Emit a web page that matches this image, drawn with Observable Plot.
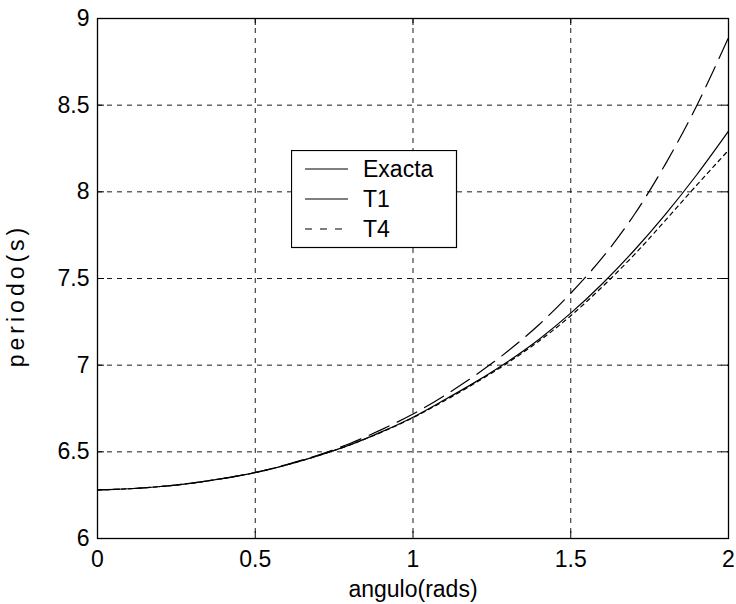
<!DOCTYPE html>
<html><head><meta charset="utf-8">
<script src="https://cdn.jsdelivr.net/npm/d3@7"></script>
<script src="https://cdn.jsdelivr.net/npm/@observablehq/plot@0.6"></script>
<style>
body{margin:0;background:#fff;}
#wrap{position:relative;width:736px;height:604px;font-family:"Liberation Sans",Arial,sans-serif;}
#legend{position:absolute;left:291px;top:150px;}
</style></head>
<body><div id="wrap"></div>
<script>
const angles = [0,0.1,0.2,0.3,0.4,0.5,0.6,0.7,0.8,0.9,1.0,1.1,1.2,1.3,1.4,1.5,1.6,1.7,1.8,1.9,2.0];
const exacta = [6.28,6.287,6.30,6.32,6.347,6.38,6.425,6.478,6.54,6.615,6.70,6.80,6.905,7.02,7.15,7.30,7.47,7.66,7.87,8.10,8.35];
const t1 =     [6.28,6.287,6.30,6.32,6.347,6.381,6.427,6.482,6.548,6.628,6.718,6.825,6.945,7.08,7.235,7.415,7.62,7.865,8.16,8.50,8.89];
const t4 =     [6.28,6.287,6.30,6.32,6.347,6.38,6.425,6.478,6.54,6.613,6.697,6.795,6.90,7.013,7.14,7.285,7.452,7.635,7.835,8.04,8.24];
const seriesNames = ["Exacta","T1","T4"];
const xTicks = [0,0.5,1,1.5,2];
const yTicks = [6,6.5,7,7.5,8,8.5,9];
const xLabel = "angulo(rads)";
const yLabel = "periodo(s)";

const dashes = {"Exacta": null, "T1": "22,9", "T4": "4,4"};
const rows = [];
[exacta, t1, t4].forEach((vals, i) => vals.forEach((v, j) => rows.push({series: seriesNames[i], angle: angles[j], value: v})));

const font = {fontFamily: '"Liberation Sans", Arial, sans-serif', fontSize: "23px"};

const chart = Plot.plot({
  width: 736, height: 604,
  marginLeft: 97, marginRight: 8, marginTop: 18, marginBottom: 66,
  style: {...font, color: "#000", background: "#fff", overflow: "visible"},
  x: {domain: [0, 2]},
  y: {domain: [6, 9]},
  marks: [
    Plot.gridX(xTicks, {stroke: "#000", strokeOpacity: 1, strokeWidth: 0.9, strokeDasharray: "5,5"}),
    Plot.gridY(yTicks, {stroke: "#000", strokeOpacity: 1, strokeWidth: 0.9, strokeDasharray: "5,5"}),
    Plot.tickX(xTicks, {x: d => d, insetTop: 513, stroke: "#000"}),
    Plot.tickX(xTicks, {x: d => d, insetBottom: 513, stroke: "#000"}),
    Plot.tickY(yTicks, {y: d => d, insetLeft: 624, stroke: "#000"}),
    Plot.tickY(yTicks, {y: d => d, insetRight: 624, stroke: "#000"}),
    Plot.frame({stroke: "#000", strokeWidth: 1.3}),
    ...seriesNames.map(s => Plot.line(rows.filter(r => r.series === s), {
      x: "angle", y: "value", stroke: "#000", strokeWidth: 1.2,
      strokeDasharray: dashes[s], curve: "catmull-rom"
    })),
    Plot.axisX(xTicks, {tickSize: 0, tickPadding: 12, fontSize: 23, label: null, tickFormat: d => String(d)}),
    Plot.axisY(yTicks, {tickSize: 0, tickPadding: 8, fontSize: 23, label: null, tickFormat: d => String(d)}),
    Plot.text([xLabel], {frameAnchor: "bottom", dy: 58, fontSize: 23, fill: "#000"}),
    Plot.text([yLabel], {frameAnchor: "left", textAnchor: "middle", rotate: -90, dx: -81, dy: 17, fontSize: 23, fill: "#000", className: "ylab"})
  ]
});
d3.select(chart).selectAll(".ylab text").attr("letter-spacing", "4px");
document.getElementById("wrap").appendChild(chart);

// legend
const lg = d3.select("#wrap").append("div").attr("id", "legend");
const lsvg = lg.append("svg").attr("width", 167).attr("height", 99);
lsvg.append("rect").attr("x", 0.5).attr("y", 0.5).attr("width", 165).attr("height", 97)
  .attr("fill", "#fff").attr("stroke", "#000").attr("stroke-width", 1.2);
seriesNames.forEach((s, i) => {
  const y = 19 + i * 30;
  lsvg.append("line").attr("x1", 14).attr("x2", 57).attr("y1", y).attr("y2", y)
    .attr("stroke", "#000").attr("stroke-width", 1.2)
    .attr("stroke-dasharray", s === "T4" ? "7,8" : null);
  lsvg.append("text").attr("x", 72).attr("y", y).attr("dy", "0.35em")
    .attr("font-family", '"Liberation Sans", Arial, sans-serif').attr("font-size", 23)
    .text(s);
});
</script>
</body></html>
